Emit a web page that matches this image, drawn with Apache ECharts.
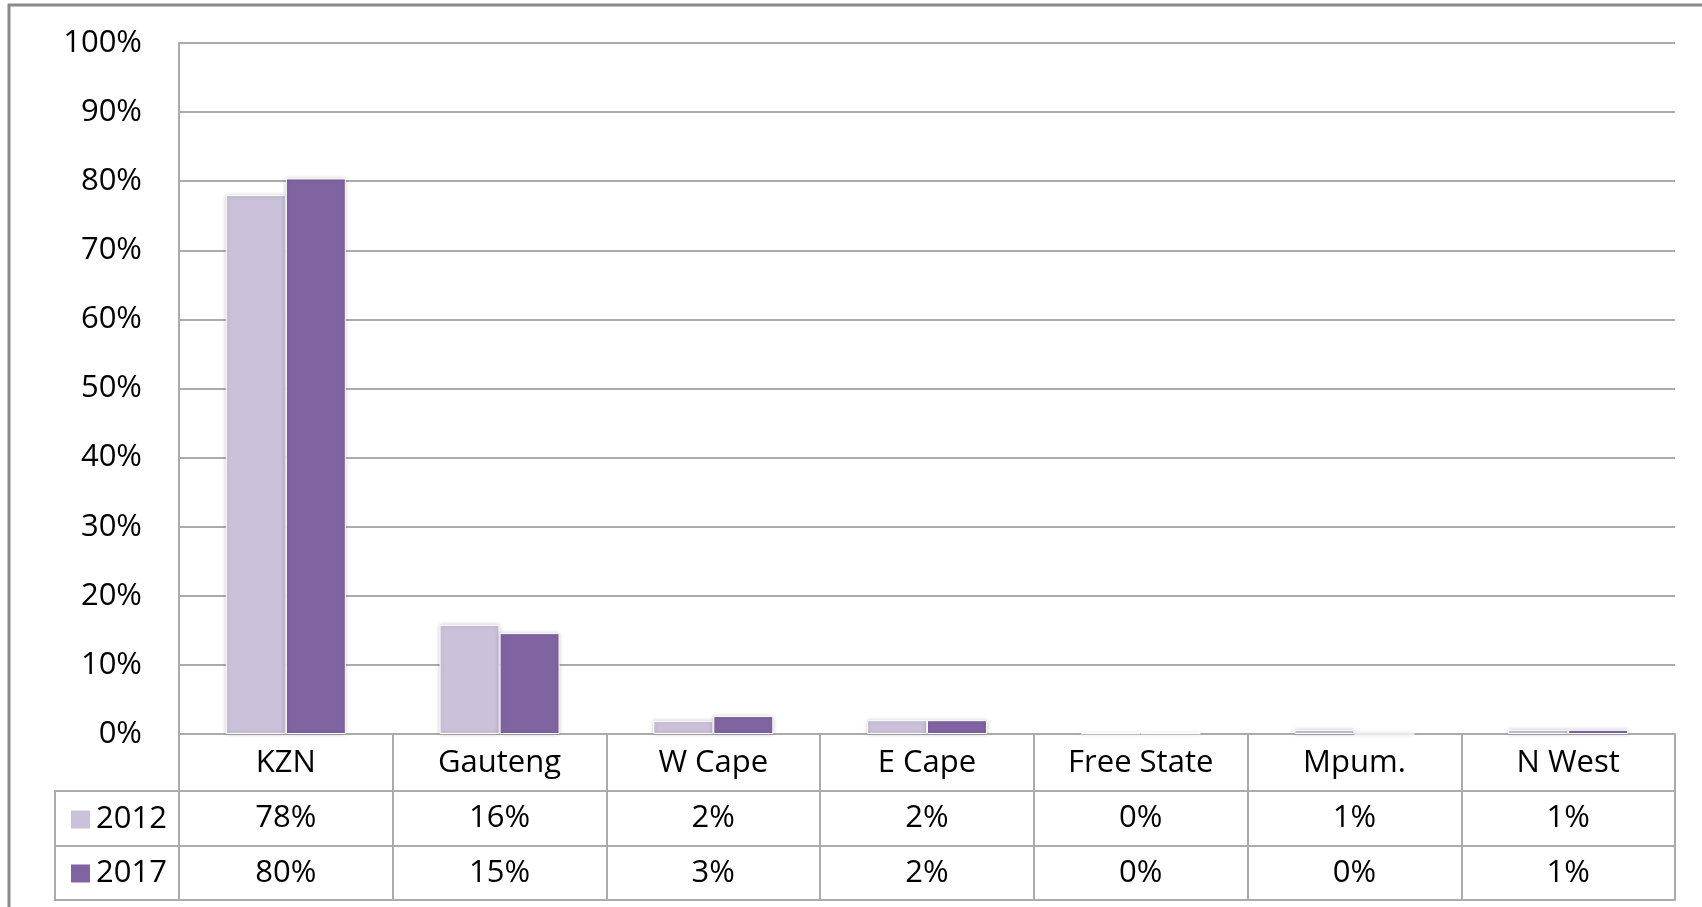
<!DOCTYPE html>
<html>
<head>
<meta charset="utf-8">
<script src="https://cdn.jsdelivr.net/npm/echarts@6/dist/echarts.min.js"></script>
<style>
html,body{margin:0;padding:0;background:#fff;}
#main{width:1702px;height:907px;}
</style>
</head>
<body>
<div id="main"></div>
<script>
var provinces = ['KZN','Gauteng','W Cape','E Cape','Free State','Mpum.','N West'];
var years = ['2012','2017'];
var share2012 = [78.0, 15.8, 1.9, 2.0, 0.1, 0.6, 0.6];
var share2017 = [80.4, 14.6, 2.6, 2.0, 0.1, 0, 0.6];
var yTicks = [0,10,20,30,40,50,60,70,80,90,100];

var lightPurple = '#CCC1DA';
var darkPurple = '#8064A2';
var lineGray = '#ababab';
var fontName = 'Open Sans';
var fontSz = 31;

var myChart = echarts.init(document.getElementById('main'));

function pct(v){
	return Math.round(v)+'%';
}

function rowAxis(offset,vals){
	return {
		type:'category',
		gridIndex:0,
		position:'bottom',
		offset:offset,
		data:provinces,
		axisLine:{show:true,lineStyle:{color:lineGray,width:2}},
		axisTick:{show:false},
		axisLabel:{
			show:vals!=null,
			interval:0,
			margin:12,
			fontFamily:fontName,
			fontSize:fontSz,
			color:'#000',
			formatter:function(value,index){
				return vals ? pct(vals[index]) : '';
			}
		}
	};
}

var option = {
	backgroundColor:'#fff',
	animation:false,
	color:[lightPurple,darkPurple],
	legend:{
		data:years,
		orient:'vertical',
		left:64,
		top:799,
		itemWidth:21,
		itemHeight:20,
		itemGap:23,
		icon:'rect',
		selectedMode:false,
		textStyle:{fontFamily:fontName,fontSize:fontSz,color:'#000'}
	},
	grid:{
		left:179,
		right:27,
		top:43,
		bottom:173
	},
	xAxis:[{
		type:'category',
		data:provinces,
		axisLine:{show:true,lineStyle:{color:lineGray,width:2}},
		axisTick:{show:true,interval:0,length:166,lineStyle:{color:lineGray,width:2}},
		axisLabel:{interval:0,margin:14,fontFamily:fontName,fontSize:fontSz,color:'#000'}
	},
	rowAxis(57,share2012),
	rowAxis(112,share2017),
	rowAxis(166,null)
	],
	yAxis:{
		type:'value',
		min:yTicks[0],
		max:yTicks[yTicks.length-1],
		interval:10,
		axisLine:{show:true,lineStyle:{color:lineGray,width:2}},
		axisTick:{show:false},
		splitLine:{lineStyle:{color:lineGray,width:2}},
		axisLabel:{
			margin:37,
			fontFamily:fontName,
			fontSize:fontSz,
			color:'#000',
			formatter:'{value}%'
		}
	},
	series:[{
		name:years[0],
		type:'bar',
		barWidth:60,
		barGap:0,
		data:share2012,
		itemStyle:{borderColor:'#fff',borderWidth:1,shadowBlur:4,shadowColor:'rgba(0,0,0,0.2)'}
	},{
		name:years[1],
		type:'bar',
		barWidth:60,
		barGap:0,
		data:share2017,
		itemStyle:{borderColor:'#fff',borderWidth:1,shadowBlur:4,shadowColor:'rgba(0,0,0,0.2)'}
	}],
	graphic:[{
		type:'polyline',
		shape:{points:[[9,907],[9,5],[1702,5]]},
		style:{stroke:'#8a8a8a',lineWidth:3,fill:null}
	},{
		type:'rect',
		shape:{x:55,y:791,width:124,height:109},
		style:{stroke:lineGray,lineWidth:2,fill:null}
	},{
		type:'line',
		shape:{x1:55,y1:846,x2:179,y2:846},
		style:{stroke:lineGray,lineWidth:2}
	}]
};

myChart.setOption(option);
</script>
</body>
</html>
